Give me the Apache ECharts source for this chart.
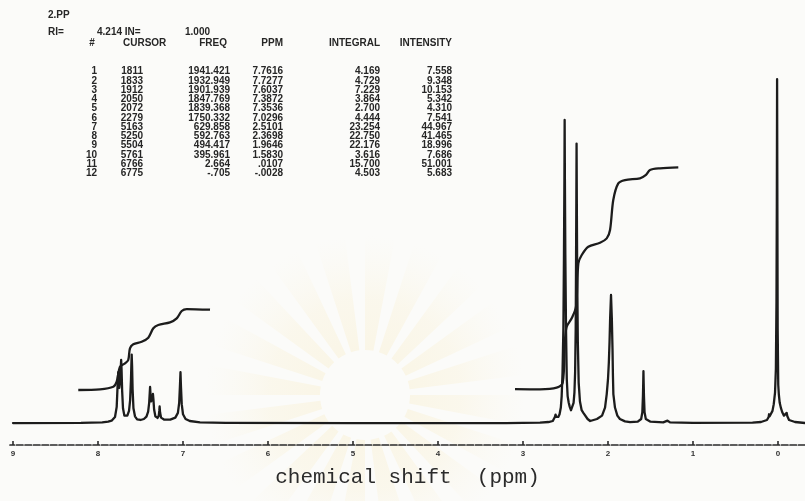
<!DOCTYPE html>
<html>
<head>
<meta charset="utf-8">
<script src="https://cdn.jsdelivr.net/npm/echarts@6/dist/echarts.min.js"></script>
<style>
  html, body { margin: 0; padding: 0; background: #fbfbf9; }
  #chart { width: 805px; height: 501px; }
</style>
</head>
<body>
<div id="chart"></div>
<script>
// ---- Peak table (spectrometer printout) ----
const peakNo       = [1, 2, 3, 4, 5, 6, 7, 8, 9, 10, 11, 12];
const cursorPos    = [1811, 1833, 1912, 2050, 2072, 2279, 5163, 5250, 5504, 5761, 6766, 6775];
const freqHz       = [1941.421, 1932.949, 1901.939, 1847.769, 1839.368, 1750.332, 629.858, 592.763, 494.417, 395.961, 2.664, -0.705];
const ppmVals      = [7.7616, 7.7277, 7.6037, 7.3872, 7.3536, 7.0296, 2.5101, 2.3698, 1.9646, 1.5830, 0.0107, -0.0028];
const integralVals = [4.169, 4.729, 7.229, 3.864, 2.700, 4.444, 23.254, 22.750, 22.176, 3.616, 15.700, 4.503];
const intensityVals= [7.558, 9.348, 10.153, 5.342, 4.310, 7.541, 44.967, 41.465, 18.996, 7.686, 51.001, 5.683];

// ---- Spectrum trace between the listed peak tops: [ppm, intensity] ----
const traceFlanks = [
  [9.0, 0], [8.2, 0.02], [7.95, 0.1], [7.88, 0.2], [7.84, 0.35], [7.80, 0.9], [7.78, 2.4], [7.772, 4.8], [7.766, 6.6],
  [7.757, 6.4], [7.75, 5.2], [7.744, 5.3], [7.738, 6.4], [7.732, 8.2],
  [7.723, 8.0], [7.716, 4.8], [7.706, 2.2], [7.69, 1.1], [7.675, 0.85], [7.655, 1.1], [7.635, 1.8], [7.622, 3.4], [7.612, 6.5], [7.6075, 8.6],
  [7.599, 8.5], [7.593, 5.0], [7.583, 2.2], [7.565, 1.0], [7.54, 0.55], [7.50, 0.45], [7.46, 0.6], [7.43, 0.95], [7.41, 1.7], [7.398, 3.0], [7.392, 4.3],
  [7.383, 4.4], [7.376, 3.2], [7.37, 3.0], [7.36, 3.6],
  [7.348, 3.5], [7.34, 2.0], [7.325, 1.0], [7.30, 0.75], [7.285, 1.1], [7.279, 1.8], [7.275, 2.45], [7.270, 1.6], [7.258, 0.8],
  [7.22, 0.5], [7.15, 0.5], [7.09, 0.8], [7.06, 1.5], [7.045, 3.0], [7.036, 5.5],
  [7.024, 5.4], [7.015, 2.8], [7.0, 1.3], [6.97, 0.6], [6.92, 0.3], [6.8, 0.1], [6.5, 0.03], [5.0, 0], [3.2, 0],
  [2.8, 0.05], [2.7, 0.15], [2.65, 0.3], [2.625, 0.9], [2.617, 1.25], [2.61, 0.9], [2.598, 0.85], [2.585, 0.9], [2.57, 1.3],
  [2.555, 2.3], [2.545, 4.0], [2.535, 7.5], [2.525, 14], [2.518, 25], [2.513, 36],
  [2.507, 36], [2.502, 25], [2.494, 14], [2.485, 6.5], [2.475, 4.0], [2.462, 3.0], [2.45, 2.4], [2.435, 1.9], [2.42, 2.1],
  [2.405, 3.0], [2.395, 4.5], [2.387, 7.5], [2.38, 14], [2.3755, 25], [2.3725, 33],
  [2.367, 33], [2.3625, 22], [2.355, 12], [2.345, 6], [2.33, 3.2], [2.31, 1.9], [2.29, 1.5], [2.27, 1.3], [2.24, 0.6],
  [2.21, 0.3], [2.17, 0.45], [2.13, 0.6], [2.07, 1.1], [2.035, 2.3], [2.015, 4.3], [2.0, 6.5], [1.99, 9.0], [1.982, 12], [1.975, 15.5],
  [1.955, 15.5], [1.947, 11], [1.942, 7], [1.937, 4.3], [1.918, 2.3], [1.89, 1.1], [1.86, 0.6], [1.80, 0.25], [1.74, 0.12],
  [1.65, 0.2], [1.61, 0.6], [1.596, 1.6], [1.589, 4.0], [1.5855, 6.0],
  [1.5805, 6.0], [1.577, 4.0], [1.57, 1.6], [1.555, 0.6], [1.5, 0.2], [1.35, 0.1], [1.30, 0.35], [1.27, 0.1], [1.0, 0.02],
  [0.3, 0.05], [0.2, 0.15], [0.13, 0.45], [0.11, 0.9], [0.105, 1.3], [0.098, 1.0], [0.08, 1.2], [0.065, 1.8], [0.05, 2.8],
  [0.035, 4.5], [0.025, 8], [0.018, 18], [0.014, 32],
  [0.007, 30], [0.004, 14],
  [-0.01, 4.2], [-0.02, 3.0], [-0.035, 2.2], [-0.05, 1.6], [-0.07, 1.1], [-0.09, 1.3], [-0.102, 1.5], [-0.11, 1.0],
  [-0.13, 0.45], [-0.2, 0.15], [-0.32, 0]
];

// ---- Integral traces: [ppm, height] ----
const integralAromatic = [
  [8.232, 4.90], [7.976, 5.00], [7.820, 5.39], [7.780, 6.13], [7.741, 8.35], [7.682, 8.86], [7.644, 9.35],
  [7.624, 11.08], [7.585, 11.68], [7.486, 12.06], [7.408, 12.66], [7.349, 14.05], [7.291, 14.54], [7.153, 14.94],
  [7.074, 15.53], [7.015, 16.62], [6.956, 16.91], [6.682, 16.81]
];
const integralAliphatic = [
  [3.094, 5.04], [2.800, 5.00], [2.604, 5.24], [2.533, 5.98], [2.506, 12.31], [2.486, 14.29], [2.427, 15.53],
  [2.376, 17.26], [2.349, 23.69], [2.309, 24.93], [2.232, 26.16], [2.094, 26.75], [2.015, 27.40], [1.976, 28.64],
  [1.938, 33.09], [1.879, 35.56], [1.800, 36.05], [1.624, 36.31], [1.553, 36.80], [1.506, 37.54], [1.388, 37.79],
  [1.173, 37.94]
];

// ---- Axis ticks ----
const tickLabels = [9, 8, 7, 6, 5, 4, 3, 2, 1, 0];
const axisTitle = 'chemical shift  (ppm)';

// full trace = flanks + peak tops from the table
const trace = traceFlanks
  .concat(ppmVals.map((p, i) => [p, intensityVals[i]]))
  .sort((a, b) => b[0] - a[0]);

const ink = '#1c1c1c';

function fmt(v, d) {
  return v.toFixed(d).replace(/^(-?)0\./, '$1.');
}

// printout text
const tableFont = 'bold 10px "Liberation Sans", Arial, sans-serif';
const graphics = [];

// faint sunburst emblem behind the plot
const wmCx = 365, wmCy = 395;
const rayCount = 40;
for (let k = 0; k < rayCount; k += 2) {
  const a0 = (k / rayCount) * Math.PI * 2;
  const a1 = ((k + 1.2) / rayCount) * Math.PI * 2;
  graphics.push({
    type: 'sector', silent: true, z: -10,
    shape: { cx: wmCx, cy: wmCy, r0: 45, r: 160, startAngle: a0, endAngle: a1 },
    style: {
      fill: {
        type: 'radial', x: wmCx, y: wmCy, r: 160, global: true,
        colorStops: [
          { offset: 0, color: 'rgba(246,228,170,0.30)' },
          { offset: 0.6, color: 'rgba(248,234,190,0.22)' },
          { offset: 1, color: 'rgba(250,242,215,0.0)' }
        ]
      }
    }
  });
}

function txt(x, y, s, align) {
  graphics.push({
    type: 'text', x: x, y: y, z: 10, silent: true,
    style: { text: s, font: tableFont, fill: '#262626', textAlign: align || 'left', textVerticalAlign: 'middle' }
  });
}

txt(48, 15, '2.PP');
txt(48, 32, 'RI=');
txt(97, 32, '4.214 IN=');
txt(185, 32, '1.000');
txt(92, 43, '#', 'center');
txt(123, 43, 'CURSOR');
txt(227, 43, 'FREQ', 'right');
txt(283, 43, 'PPM', 'right');
txt(380, 43, 'INTEGRAL', 'right');
txt(452, 43, 'INTENSITY', 'right');

for (let i = 0; i < peakNo.length; i++) {
  const y = 71.7 + i * 9.24;
  txt(97, y, String(peakNo[i]), 'right');
  txt(143, y, String(cursorPos[i]), 'right');
  txt(230, y, fmt(freqHz[i], 3), 'right');
  txt(283, y, fmt(ppmVals[i], 4), 'right');
  txt(380, y, fmt(integralVals[i], 3), 'right');
  txt(452, y, fmt(intensityVals[i], 3), 'right');
}

const chart = echarts.init(document.getElementById('chart'), null, { renderer: 'canvas' });
chart.setOption({
  animation: false,
  backgroundColor: '#fbfbf9',
  // plot bottom sits on the scale bar; the trace baseline (0) is 22px above it
  grid: { left: 10, right: 0, top: 0, bottom: 56, containLabel: false },
  xAxis: {
    type: 'value',
    min: -0.3176,
    max: 9.0353,
    inverse: true,
    axisLine: { onZero: false, lineStyle: { color: '#2a2a2a', width: 1.7, type: [6.5, 2] } },
    axisTick: { inside: true, length: 4, customValues: tickLabels, lineStyle: { color: '#2a2a2a', width: 1.6 } },
    axisLabel: {
      customValues: tickLabels, margin: 5, fontSize: 8, fontWeight: 'bold',
      color: '#333', fontFamily: 'Liberation Sans'
    },
    splitLine: { show: false },
    name: axisTitle,
    nameLocation: 'middle',
    nameGap: 22,
    nameTextStyle: { fontFamily: '"Liberation Mono", "Courier New", monospace', fontSize: 21, color: '#2b2b2b' }
  },
  yAxis: { type: 'value', min: -3.26, max: 62.76, show: false },
  graphic: graphics,
  series: [
    {
      name: 'spectrum', type: 'line', data: trace, showSymbol: false,
      lineStyle: { color: ink, width: 2.3, join: 'round', cap: 'round' }, z: 5
    },
    {
      name: 'integral 6.7-8.2', type: 'line', data: integralAromatic, showSymbol: false, smooth: 0.3,
      lineStyle: { color: ink, width: 2.3 }, z: 4
    },
    {
      name: 'integral 1.2-3.1', type: 'line', data: integralAliphatic, showSymbol: false, smooth: 0.3,
      lineStyle: { color: ink, width: 2.3 }, z: 4
    }
  ]
});
</script>
</body>
</html>
